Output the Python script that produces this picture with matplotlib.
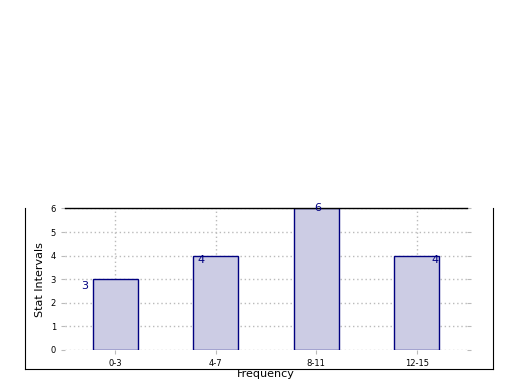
import matplotlib
matplotlib.use("Agg")
import matplotlib.pyplot as plt
import numpy as np

categories = ["0-3", "4-7", "8-11", "12-15"]
counts = [3, 4, 6, 4]
# label offsets (x shift, y shift) as seen in the picture
label_dx = [-0.3, -0.15, 0.02, 0.18]
label_dy = [-0.3, -0.2, 0.0, -0.2]

fig = plt.figure(figsize=(5.2, 3.9), dpi=100)

# outer frame (left, right and bottom edges only)
frame = fig.add_axes([0.048, 0.054, 0.9, 0.4115])
frame.set_xticks([])
frame.set_yticks([])
frame.spines["top"].set_visible(False)
frame.patch.set_alpha(0)

ax = fig.add_axes([0.125, 0.1026, 0.773, 0.3628])
ax.patch.set_alpha(0)
x = np.arange(len(categories))
ax.bar(x, counts, width=0.45, color="#ccccE4", edgecolor="#000080", linewidth=1, zorder=2)
for i, v in enumerate(counts):
    ax.text(x[i] + label_dx[i], v + label_dy[i], str(v), color="#000080",
            fontsize=8, ha="center", va="center", zorder=3)

ax.set_xlim(-0.5, 3.5)
ax.set_ylim(0, 6)
ax.set_xticks(x)
ax.set_xticklabels(categories)
ax.set_yticks(range(7))
ax.grid(True, linestyle=(0, (1, 2)), color="#bbbbbb", linewidth=1, zorder=0)
ax.tick_params(axis="both", labelsize=6, color="#bbbbbb", length=3, right=True)
for s in ["left", "right", "bottom"]:
    ax.spines[s].set_visible(False)
ax.spines["top"].set_linewidth(1)
ax.set_xlabel("Frequency", fontsize=8, labelpad=1)
ax.set_ylabel("Stat Intervals", fontsize=8)

fig.savefig("out.png", dpi=100)
